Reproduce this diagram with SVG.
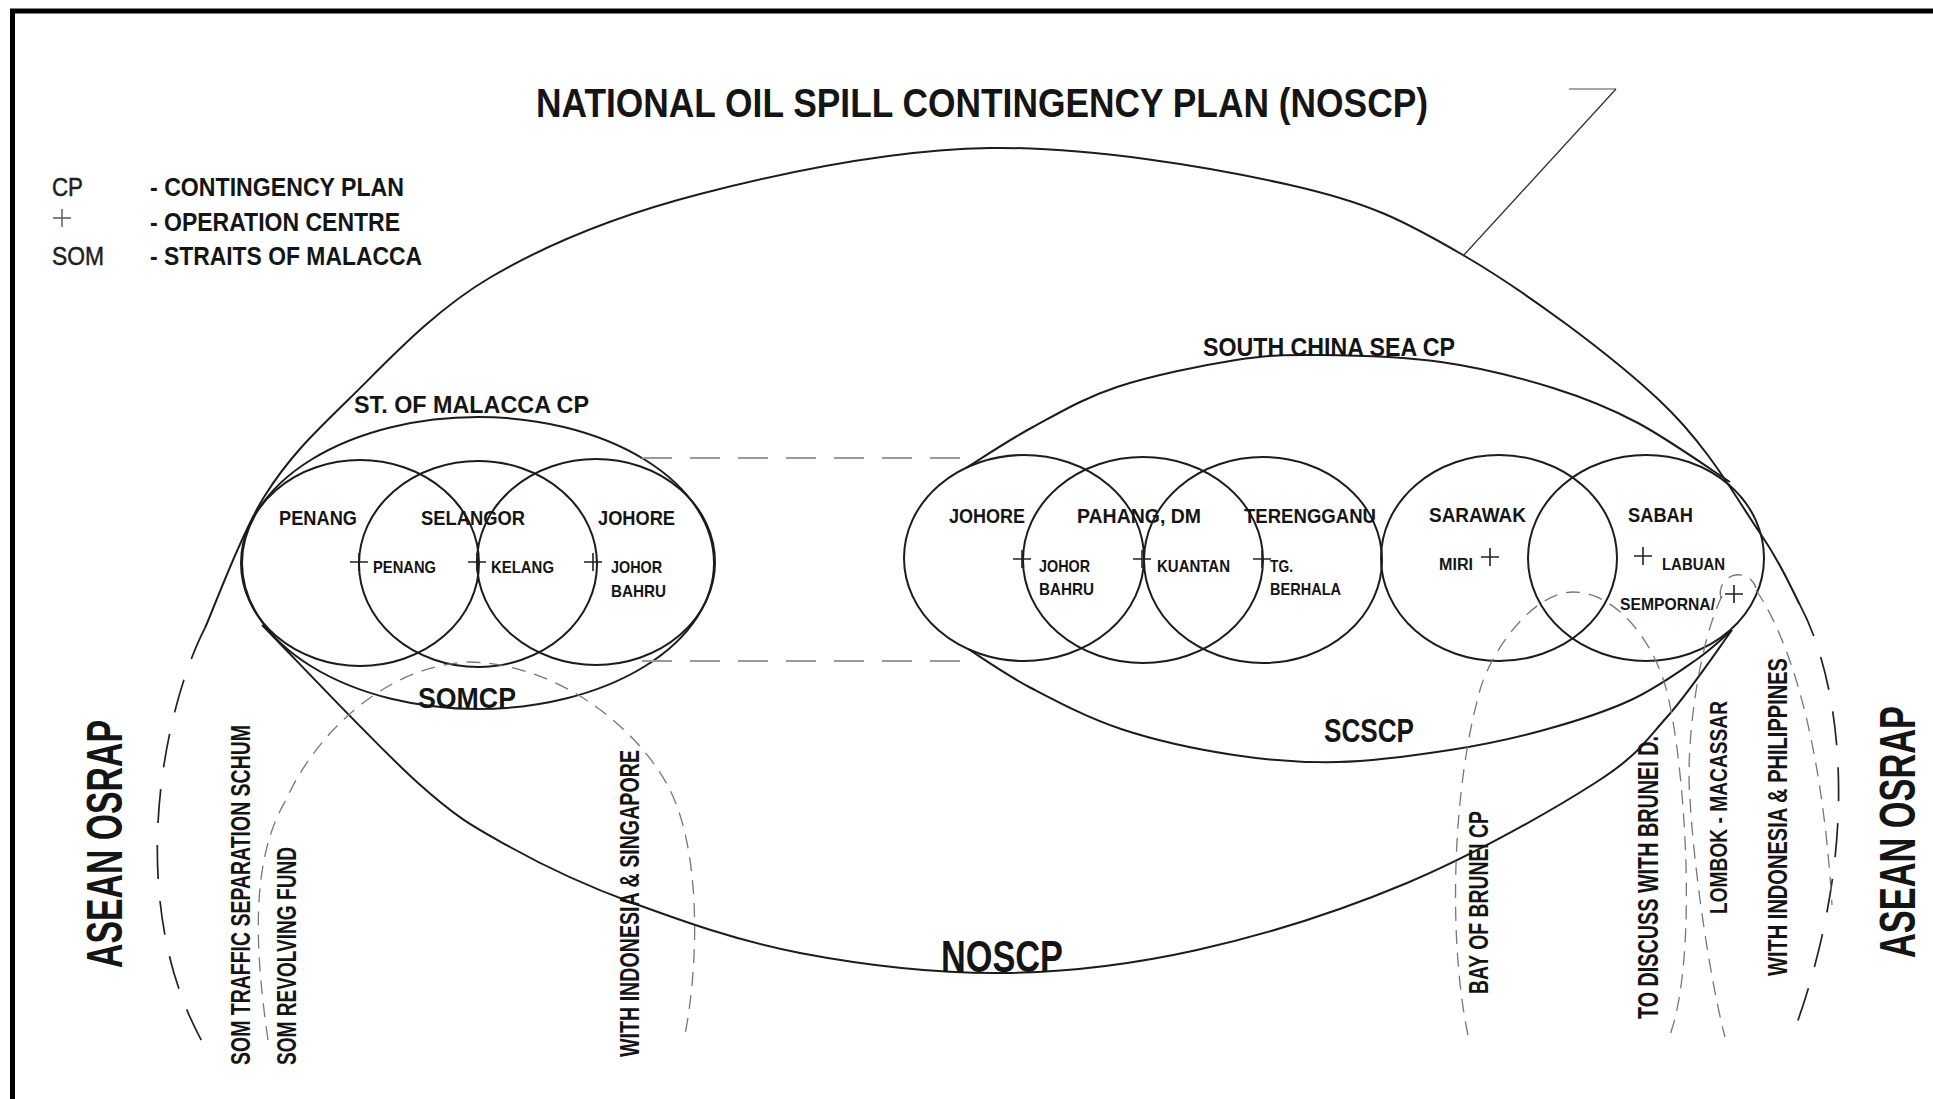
<svg xmlns="http://www.w3.org/2000/svg" xmlns:xlink="http://www.w3.org/1999/xlink" width="1933" height="1099" viewBox="0 0 1933 1099">
<style>
.ln{fill:none;stroke:#1c1c1c;stroke-width:2}
.thin{fill:none;stroke:#333;stroke-width:1.3}
.dl{fill:none;stroke:#222;stroke-width:1.7;stroke-dasharray:34 22}
.dm{fill:none;stroke:#777;stroke-width:1.3;stroke-dasharray:14 9}
.dc{fill:none;stroke:#9a9a9a;stroke-width:1.8;stroke-dasharray:30 18}
.pl{fill:none;stroke:#222;stroke-width:1.6}
text{font-family:"Liberation Sans",Arial,sans-serif;font-weight:bold;fill:#151515}
.reg{font-weight:normal;fill:#1e1e1e;stroke:#1e1e1e;stroke-width:0.5}
</style>
<defs>
<path id="plus" d="M-9,0H9M0,-9V9"/>
</defs>
<rect width="1933" height="1099" fill="#fff"/>
<path d="M12.5,1099V11H1933" fill="none" stroke="#000" stroke-width="5"/>

<g id="title">
<text x="536" y="117" font-size="40" textLength="892" lengthAdjust="spacingAndGlyphs">NATIONAL OIL SPILL CONTINGENCY PLAN (NOSCP)</text>
</g>

<g id="legend">
<text class="reg" x="52" y="196" font-size="26" textLength="31" lengthAdjust="spacingAndGlyphs">CP</text>
<use xlink:href="#plus" x="62" y="218" stroke="#555" stroke-width="1.4"/>
<text class="reg" x="52" y="265" font-size="26" textLength="52" lengthAdjust="spacingAndGlyphs">SOM</text>
<text x="150" y="196" font-size="26" textLength="254" lengthAdjust="spacingAndGlyphs">- CONTINGENCY PLAN</text>
<text x="150" y="231" font-size="26" textLength="250" lengthAdjust="spacingAndGlyphs">- OPERATION CENTRE</text>
<text x="150" y="265" font-size="26" textLength="272" lengthAdjust="spacingAndGlyphs">- STRAITS OF MALACCA</text>
</g>

<g id="noscp">
<path class="ln" d="M205,628 C214.8,606.2 240.2,535 264,497 C287.8,459 310.2,436.7 348,400 C385.8,363.3 432.3,311.3 491,277 C549.7,242.7 616.8,215.5 700,194 C783.2,172.5 891.7,149.5 990,148 C1088.3,146.5 1211.2,167.2 1290,185 C1368.8,202.8 1401.5,219.2 1463,255 C1524.5,290.8 1609.5,353.7 1659,400 C1708.5,446.3 1736.5,498.8 1760,533 C1783.5,567.2 1793.3,593 1800,605"/>
<path class="ln" d="M262,625 C288,651.3 376.7,746 418,783 C459.3,820 474.2,827 510,847 C545.8,867 584.7,885.3 633,903 C681.3,920.7 738.5,941.3 800,953 C861.5,964.7 935.8,973.5 1002,973 C1068.2,972.5 1129.5,965 1197,950 C1264.5,935 1340.7,910.8 1407,883 C1473.3,855.2 1551.7,810.7 1595,783 C1638.3,755.3 1644.2,742.5 1667,717 C1689.8,691.5 1721.2,644.5 1732,630"/>
<text x="941" y="972" font-size="44" textLength="122" lengthAdjust="spacingAndGlyphs">NOSCP</text>
</g>

<g id="asean-osrap">
<path class="dl" d="M205,628 C165,705 122,900 204,1045"/>
<path class="dl" d="M1800,605 C1840,680 1865,840 1792,1037"/>
<text transform="translate(122,968) rotate(-90)" font-size="50" textLength="248" lengthAdjust="spacingAndGlyphs">ASEAN OSRAP</text>
<text transform="translate(1915,958) rotate(-90)" font-size="50" textLength="252" lengthAdjust="spacingAndGlyphs">ASEAN OSRAP</text>
</g>

<g id="somcp">
<ellipse class="ln" cx="478" cy="563" rx="236" ry="146"/>
<text x="354" y="413" font-size="23" textLength="235" lengthAdjust="spacingAndGlyphs">ST. OF MALACCA CP</text>
<text x="418" y="708" font-size="29" textLength="98" lengthAdjust="spacingAndGlyphs">SOMCP</text>
</g>

<g id="som-penang">
<ellipse class="ln" cx="360" cy="563" rx="119" ry="103"/>
<text x="279" y="525" font-size="21" textLength="78" lengthAdjust="spacingAndGlyphs">PENANG</text>
<use xlink:href="#plus" x="359" y="562" class="pl"/>
<text x="373" y="573" font-size="17" textLength="63" lengthAdjust="spacingAndGlyphs">PENANG</text>
</g>
<g id="som-selangor">
<ellipse class="ln" cx="478" cy="564" rx="119" ry="103"/>
<text x="421" y="525" font-size="21" textLength="104" lengthAdjust="spacingAndGlyphs">SELANGOR</text>
<use xlink:href="#plus" x="477" y="562" class="pl"/>
<text x="491" y="573" font-size="17" textLength="63" lengthAdjust="spacingAndGlyphs">KELANG</text>
</g>
<g id="som-johore">
<ellipse class="ln" cx="596" cy="562" rx="119" ry="103"/>
<text x="598" y="525" font-size="21" textLength="77" lengthAdjust="spacingAndGlyphs">JOHORE</text>
<use xlink:href="#plus" x="593" y="562" class="pl"/>
<text x="611" y="573" font-size="17" textLength="51" lengthAdjust="spacingAndGlyphs">JOHOR</text>
<text x="611" y="597" font-size="17" textLength="55" lengthAdjust="spacingAndGlyphs">BAHRU</text>
</g>

<g id="scscp">
<path class="ln" d="M966,468 C977.2,461.2 1007.8,440.5 1033,427 C1058.2,413.5 1083.2,398.2 1117,387 C1150.8,375.8 1202.2,365.3 1236,360 C1269.8,354.7 1285.8,354.7 1320,355 C1354.2,355.3 1402.2,356.5 1441,362 C1479.8,367.5 1520.2,377.8 1553,388 C1585.8,398.2 1608.5,407.3 1638,423 C1667.5,438.7 1714.7,472.2 1730,482"/>
<path class="ln" d="M968,649 C978.5,655.5 1005.5,674.7 1031,688 C1056.5,701.3 1087.2,717.8 1121,729 C1154.8,740.2 1197.8,749.5 1234,755 C1270.2,760.5 1302,762.8 1338,762 C1374,761.2 1415.7,755.3 1450,750 C1484.3,744.7 1513.8,738.3 1544,730 C1574.2,721.7 1605.7,711.7 1631,700 C1656.3,688.3 1679.2,671.7 1696,660 C1712.8,648.3 1726,635 1732,630"/>
<text x="1203" y="356" font-size="26" textLength="252" lengthAdjust="spacingAndGlyphs">SOUTH CHINA SEA CP</text>
<text x="1324" y="742" font-size="33" textLength="90" lengthAdjust="spacingAndGlyphs">SCSCP</text>
</g>

<g id="scs-johore">
<ellipse class="ln" cx="1024" cy="558" rx="120" ry="103"/>
<text x="949" y="523" font-size="21" textLength="76" lengthAdjust="spacingAndGlyphs">JOHORE</text>
<use xlink:href="#plus" x="1022" y="559" class="pl"/>
<text x="1039" y="572" font-size="17" textLength="51" lengthAdjust="spacingAndGlyphs">JOHOR</text>
<text x="1039" y="595" font-size="17" textLength="55" lengthAdjust="spacingAndGlyphs">BAHRU</text>
</g>
<g id="scs-pahang">
<ellipse class="ln" cx="1143" cy="560" rx="120" ry="103"/>
<text x="1077" y="523" font-size="21" textLength="124" lengthAdjust="spacingAndGlyphs">PAHANG, DM</text>
<use xlink:href="#plus" x="1142" y="559" class="pl"/>
<text x="1157" y="572" font-size="17" textLength="73" lengthAdjust="spacingAndGlyphs">KUANTAN</text>
</g>
<g id="scs-terengganu">
<ellipse class="ln" cx="1263" cy="560" rx="119" ry="103"/>
<text x="1244" y="523" font-size="21" textLength="132" lengthAdjust="spacingAndGlyphs">TERENGGANU</text>
<use xlink:href="#plus" x="1262" y="559" class="pl"/>
<text x="1270" y="572" font-size="17" textLength="23" lengthAdjust="spacingAndGlyphs">TG.</text>
<text x="1270" y="595" font-size="17" textLength="71" lengthAdjust="spacingAndGlyphs">BERHALA</text>
</g>
<g id="scs-sarawak">
<ellipse class="ln" cx="1499" cy="558" rx="118" ry="103"/>
<text x="1429" y="522" font-size="21" textLength="97" lengthAdjust="spacingAndGlyphs">SARAWAK</text>
<text x="1439" y="570" font-size="16" textLength="34" lengthAdjust="spacingAndGlyphs">MIRI</text>
<use xlink:href="#plus" x="1490" y="557" class="pl"/>
</g>
<g id="scs-sabah">
<ellipse class="ln" cx="1646" cy="558" rx="118" ry="103"/>
<text x="1628" y="522" font-size="21" textLength="65" lengthAdjust="spacingAndGlyphs">SABAH</text>
<use xlink:href="#plus" x="1643" y="556" class="pl"/>
<text x="1662" y="570" font-size="16" textLength="63" lengthAdjust="spacingAndGlyphs">LABUAN</text>
<text x="1620" y="610" font-size="17" textLength="95" lengthAdjust="spacingAndGlyphs">SEMPORNA/</text>
<use xlink:href="#plus" x="1734" y="594" class="pl"/>
</g>

<g id="som-loop">
<path class="dm" d="M268,1040 C255,950 250,860 286,800 C315,735 385,665 470,662 C560,664 640,730 670,790 C700,850 700,960 684,1040"/>
<text transform="translate(250,1065) rotate(-90)" font-size="28" textLength="340" lengthAdjust="spacingAndGlyphs">SOM TRAFFIC SEPARATION SCHUM</text>
<text transform="translate(296,1065) rotate(-90)" font-size="27" textLength="218" lengthAdjust="spacingAndGlyphs">SOM REVOLVING FUND</text>
<text transform="translate(639,1057) rotate(-90)" font-size="27" textLength="307" lengthAdjust="spacingAndGlyphs">WITH INDONESIA &amp; SINGAPORE</text>
</g>

<g id="brunei-loop">
<path class="dm" d="M1468,1035 C1448,940 1452,790 1480,690 C1491,651 1533,592 1573,592 C1613,592 1650,635 1665,685 C1683,745 1700,950 1670,1035"/>
<text transform="translate(1488,994) rotate(-90)" font-size="27" textLength="183" lengthAdjust="spacingAndGlyphs">BAY OF BRUNEI CP</text>
<text transform="translate(1658,1019) rotate(-90)" font-size="29" textLength="283" lengthAdjust="spacingAndGlyphs">TO DISCUSS WITH BRUNEI D.</text>
</g>

<g id="lombok-loop">
<path class="dm" d="M1721,598 A18,18 0 1 1 1756,588"/>
<path class="dm" d="M1722,596 C1700,640 1685,740 1690,800 C1694,870 1710,980 1725,1037"/>
<path class="dm" d="M1756,590 C1790,640 1822,740 1832,905"/>
<text transform="translate(1727,914) rotate(-90)" font-size="24" textLength="213" lengthAdjust="spacingAndGlyphs">LOMBOK - MACASSAR</text>
<text transform="translate(1787,976) rotate(-90)" font-size="27" textLength="318" lengthAdjust="spacingAndGlyphs">WITH INDONESIA &amp; PHILIPPINES</text>
</g>

<g id="connectors">
<path class="dc" d="M642,458H974M642,661H974"/>
<path d="M1569,89H1616" fill="none" stroke="#888" stroke-width="1.5"/>
<path class="thin" d="M1616,89L1463,256"/>
</g>
</svg>
